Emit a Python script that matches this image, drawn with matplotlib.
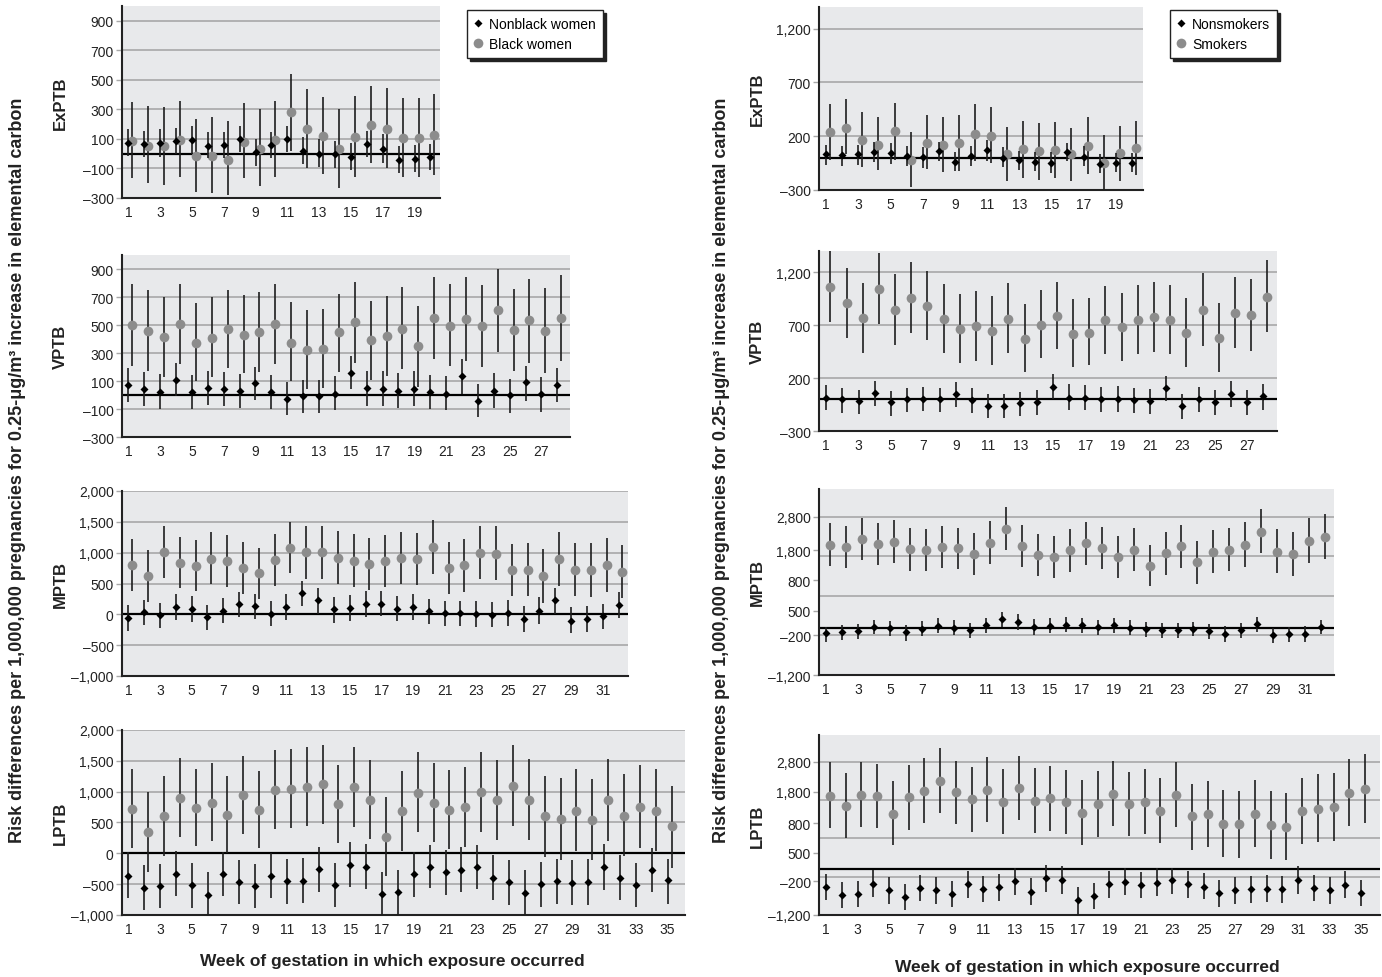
import matplotlib.pyplot as plt
from matplotlib.lines import Line2D

# ---- data: (estimate, lower CI, upper CI) per week ----
weeks20 = list(range(1, 21))
weeks28 = list(range(1, 29))
weeks32 = list(range(1, 33))
weeks35 = list(range(1, 36))

# left column: Nonblack women vs Black women
ex_nb_est = [75, 65, 70, 85, 90, 55, 60, 100, 10, 60, 100, 20, 0, -5, -20, 65, 35, -40, -35, -25]
ex_nb_lo = [-15, -20, -20, 0, 0, -30, -30, 10, -85, -30, 10, -70, -90, -100, -110, -20, -60, -130, -125, -110]
ex_nb_hi = [170, 155, 165, 175, 185, 145, 150, 190, 100, 150, 190, 115, 100, 85, 70, 155, 130, 55, 60, 65]
ex_b_est = [85, 55, 50, 95, -15, -15, -40, 80, 35, 90, 280, 170, 120, 30, 115, 195, 170, 105, 105, 125]
ex_b_lo = [-165, -200, -210, -155, -260, -265, -280, -165, -220, -160, 15, -95, -135, -230, -160, -65, -95, -155, -155, -145]
ex_b_hi = [350, 320, 315, 360, 235, 250, 220, 345, 300, 355, 540, 440, 385, 305, 390, 460, 445, 380, 375, 405]

vp_nb_est = [70, 45, 25, 110, 20, 50, 45, 30, 85, 25, -30, -10, -10, 10, 160, 50, 45, 30, 45, 20, 10, 135, -40, 30, 0, 90, 5, 70]
vp_nb_lo = [-50, -75, -100, -5, -100, -70, -75, -90, -35, -100, -145, -130, -130, -110, 40, -75, -80, -90, -75, -100, -110, 10, -160, -90, -125, -40, -120, -50]
vp_nb_hi = [190, 165, 150, 230, 145, 170, 165, 150, 200, 145, 90, 105, 105, 135, 280, 175, 170, 155, 175, 145, 135, 255, 80, 155, 115, 210, 130, 195]
vp_b_est = [500, 460, 415, 505, 375, 410, 470, 430, 450, 505, 375, 325, 330, 450, 520, 390, 420, 475, 350, 550, 495, 540, 490, 605, 465, 535, 460, 550]
vp_b_lo = [210, 175, 130, 220, 100, 130, 190, 155, 165, 225, 100, 40, 50, 165, 230, 110, 135, 185, 60, 260, 205, 240, 200, 310, 175, 230, 155, 245]
vp_b_hi = [790, 750, 700, 795, 655, 700, 750, 715, 735, 790, 665, 610, 615, 725, 805, 675, 705, 770, 635, 845, 790, 840, 785, 900, 760, 830, 765, 855]

mp_nb_est = [-60, 35, -15, 125, 90, -50, 60, 165, 135, 5, 125, 340, 225, 80, 105, 165, 175, 85, 125, 50, 15, 15, 10, -5, 20, -70, 55, 225, -100, -75, -35, 155]
mp_nb_lo = [-265, -180, -220, -85, -120, -250, -145, -45, -70, -195, -85, 130, 5, -140, -105, -45, -35, -115, -85, -155, -185, -195, -200, -210, -185, -280, -155, 5, -310, -280, -245, -55]
mp_nb_hi = [150, 240, 190, 330, 290, 155, 265, 370, 335, 210, 330, 545, 430, 285, 320, 375, 380, 295, 335, 250, 220, 220, 220, 200, 225, 140, 275, 435, 115, 140, 160, 365]
mp_b_est = [800, 620, 1010, 840, 790, 905, 860, 750, 665, 885, 1080, 1005, 1005, 920, 865, 820, 860, 910, 900, 1090, 745, 795, 995, 985, 720, 715, 620, 895, 715, 715, 800, 690]
mp_b_lo = [385, 200, 590, 420, 375, 500, 440, 335, 245, 465, 665, 575, 580, 500, 445, 400, 440, 495, 480, 660, 330, 365, 570, 555, 300, 290, 190, 465, 290, 280, 365, 265]
mp_b_hi = [1220, 1040, 1430, 1260, 1210, 1330, 1290, 1170, 1080, 1310, 1500, 1440, 1435, 1345, 1300, 1245, 1285, 1340, 1325, 1525, 1170, 1220, 1435, 1425, 1140, 1150, 1055, 1335, 1160, 1150, 1240, 1125]

lp_nb_est = [-360, -560, -530, -330, -510, -670, -340, -465, -530, -360, -455, -445, -255, -510, -190, -215, -660, -630, -340, -215, -310, -265, -215, -395, -470, -640, -500, -455, -475, -460, -215, -395, -510, -270, -440]
lp_nb_lo = [-730, -920, -890, -690, -880, -1040, -700, -820, -890, -720, -820, -800, -620, -870, -550, -580, -1040, -1040, -710, -570, -670, -620, -580, -760, -830, -1040, -870, -820, -840, -830, -590, -760, -870, -620, -815]
lp_nb_hi = [20, -190, -170, 30, -150, -310, 20, -110, -170, 0, -100, -80, 110, -150, 190, 150, -300, -270, 20, 140, 50, 95, 140, -30, -110, -270, -140, -90, -110, -100, 150, -30, -155, 85, -90]
lp_b_est = [725, 350, 600, 895, 740, 820, 620, 940, 705, 1035, 1050, 1080, 1120, 800, 1070, 870, 260, 685, 985, 810, 705, 750, 990, 870, 1090, 870, 600, 550, 690, 540, 860, 610, 745, 680, 440]
lp_b_lo = [90, -300, -50, 260, 115, 200, 0, 310, 80, 400, 415, 440, 480, 170, 430, 230, -360, 40, 340, 180, 70, 110, 350, 220, 440, 210, -60, -110, 30, -110, 200, -45, 85, 30, -235]
lp_b_hi = [1370, 1000, 1250, 1540, 1370, 1460, 1250, 1580, 1340, 1670, 1690, 1730, 1760, 1440, 1730, 1510, 910, 1330, 1640, 1460, 1350, 1400, 1650, 1520, 1750, 1530, 1260, 1220, 1370, 1210, 1530, 1280, 1430, 1360, 1100]

# right column: Nonsmokers vs Smokers
ex_ns_est = [30, 25, 35, 55, 45, 20, 10, 60, -40, 20, 75, 0, -25, -40, -50, 50, 10, -55, -50, -45]
ex_ns_lo = [-65, -75, -65, -40, -55, -80, -95, -35, -125, -80, -35, -85, -115, -125, -140, -35, -80, -140, -135, -130]
ex_ns_hi = [121, 105, 120, 145, 133, 105, 100, 145, 50, 105, 165, 95, 60, 55, 55, 135, 105, 35, 45, 45]
ex_s_est = [235, 275, 165, 120, 245, -25, 140, 115, 135, 220, 205, 30, 85, 65, 70, 30, 105, -45, 40, 90]
ex_s_lo = [-20, 30, -85, -110, -20, -275, -105, -130, -120, -35, -45, -220, -185, -205, -190, -220, -150, -300, -215, -165]
ex_s_hi = [495, 545, 420, 375, 510, 235, 400, 375, 400, 495, 470, 285, 345, 325, 335, 280, 375, 215, 290, 345]

vp_ns_est = [15, 0, -15, 55, -30, 0, 5, 0, 50, -10, -60, -65, -40, -25, 120, 15, 10, 0, 0, -10, -15, 105, -60, 0, -25, 50, -25, 30]
vp_ns_lo = [-105, -130, -135, -65, -155, -120, -115, -120, -70, -130, -180, -180, -160, -145, 5, -105, -105, -120, -120, -130, -140, -20, -185, -120, -145, -75, -150, -97]
vp_ns_hi = [130, 105, 90, 170, 80, 110, 115, 110, 160, 110, 50, 50, 70, 85, 240, 145, 135, 120, 125, 110, 100, 220, 50, 120, 90, 170, 85, 146]
vp_s_est = [1060, 910, 765, 1040, 840, 960, 880, 760, 660, 690, 640, 760, 570, 700, 790, 620, 630, 750, 685, 750, 775, 750, 625, 840, 575, 815, 800, 966]
vp_s_lo = [730, 575, 435, 710, 515, 625, 555, 435, 345, 365, 325, 440, 260, 385, 470, 305, 320, 425, 360, 425, 450, 430, 305, 505, 260, 485, 460, 632]
vp_s_hi = [1420, 1235, 1095, 1380, 1180, 1295, 1215, 1085, 990, 1025, 975, 1095, 895, 1030, 1110, 945, 960, 1070, 1000, 1075, 1105, 1080, 960, 1195, 910, 1150, 1140, 1315]

mp_ns_est = [-150, -105, -95, 15, -20, -120, -30, 50, -10, -70, 60, 205, 135, 5, 50, 75, 60, 15, 60, 0, -40, -70, -70, -40, -80, -160, -70, 85, -200, -165, -160, 25]
mp_ns_lo = [-355, -310, -285, -165, -210, -330, -215, -140, -200, -270, -140, 15, -60, -190, -150, -120, -140, -180, -140, -200, -235, -270, -270, -225, -280, -375, -270, -115, -400, -355, -355, -175]
mp_ns_hi = [15, 75, 100, 195, 160, 65, 160, 240, 180, 120, 240, 395, 335, 205, 230, 265, 250, 195, 250, 180, 145, 120, 110, 150, 100, 30, 120, 275, -10, 15, 30, 195]
mp_s_est = [2085, 2030, 2230, 2120, 2170, 1990, 1955, 2025, 2000, 1860, 2145, 2480, 2065, 1835, 1775, 1955, 2130, 2000, 1770, 1965, 1560, 1880, 2060, 1645, 1920, 1965, 2095, 2420, 1920, 1845, 2180, 2290]
mp_s_lo = [1565, 1515, 1700, 1590, 1625, 1435, 1430, 1505, 1470, 1325, 1615, 1955, 1540, 1300, 1240, 1415, 1580, 1470, 1240, 1420, 1040, 1325, 1515, 1095, 1370, 1420, 1540, 1885, 1370, 1290, 1625, 1735]
mp_s_hi = [2635, 2575, 2765, 2635, 2705, 2515, 2490, 2560, 2525, 2400, 2685, 3050, 2600, 2370, 2320, 2500, 2670, 2540, 2320, 2515, 2095, 2420, 2600, 2190, 2470, 2525, 2665, 2990, 2480, 2410, 2765, 2860]

lp_ns_est = [-470, -675, -655, -380, -550, -735, -485, -550, -650, -400, -510, -475, -305, -590, -235, -280, -815, -700, -400, -330, -415, -355, -295, -400, -460, -625, -550, -520, -510, -525, -290, -495, -550, -405, -625]
lp_ns_lo = [-820, -1020, -1000, -735, -915, -1080, -840, -900, -1000, -750, -855, -830, -665, -935, -590, -640, -1220, -1055, -750, -675, -760, -700, -640, -760, -795, -985, -915, -890, -865, -880, -640, -845, -915, -760, -975]
lp_ns_hi = [-120, -330, -305, -30, -210, -400, -155, -210, -310, -60, -175, -140, 15, -245, 110, 70, -470, -365, -50, 15, -90, 15, 40, -60, -100, -280, -210, -185, -155, -185, 70, -150, -220, -60, -290]
lp_s_est = [1910, 1635, 1945, 1910, 1440, 1880, 2040, 2310, 2000, 1825, 2065, 1745, 2110, 1775, 1850, 1740, 1470, 1690, 1970, 1690, 1745, 1515, 1935, 1375, 1430, 1185, 1170, 1430, 1155, 1110, 1505, 1565, 1625, 1985, 2090]
lp_s_lo = [1065, 810, 1110, 1065, 620, 1020, 1195, 1455, 1170, 980, 1230, 905, 1270, 930, 990, 915, 630, 840, 1125, 860, 905, 670, 1085, 505, 585, 315, 290, 575, 275, 240, 655, 715, 740, 1120, 1210]
lp_s_hi = [2800, 2500, 2790, 2755, 2290, 2715, 2905, 3150, 2830, 2670, 2920, 2600, 2960, 2630, 2700, 2575, 2330, 2550, 2830, 2530, 2600, 2370, 2800, 2215, 2300, 2065, 2040, 2315, 2040, 1980, 2390, 2470, 2515, 2875, 2995]

# axis tick values / labels
yt_small = [-300, -100, 100, 300, 500, 700, 900]
yt_small_lbl = ['\u2013300', '\u2013100', '100', '300', '500', '700', '900']
yt_big = [-1000, -500, 0, 500, 1000, 1500, 2000]
yt_big_lbl = ['\u20131,000', '\u2013500', '0', '500', '1,000', '1,500', '2,000']
yt_r_small = [-300, 200, 700, 1200]
yt_r_small_lbl = ['\u2013300', '200', '700', '1,200']
grid_r_big = [-1200, -200, 800, 1800, 2800]
yt_r_mp = [-1200, -190, 420, 1190, 1950, 2800]
yt_r_lp = [-1200, -320, 420, 1195, 2015, 2800]
yt_r_big_lbl = ['\u20131,200', '\u2013200', '500', '800', '1,800', '2,800']

W, H = 1382, 978
BG = '#e8e9eb'
GRID = '#a8a8a8'
GREY_PT = '#8c8c8c'
FONT = ['Liberation Sans', 'DejaVu Sans']
TXT = '#222222'

fig = plt.figure(figsize=(W / 100, H / 100), dpi=100)


def panel(box, xlim, ylim, weeks, a, b, grid, yticks, ylabels, name, name_x):
    x0, y0, x1, y1 = box
    ax = fig.add_axes([x0 / W, 1 - y1 / H, (x1 - x0) / W, (y1 - y0) / H])
    ax.set_facecolor(BG)
    for g in grid:
        ax.axhline(g, color=GRID, lw=1.2, zorder=1)
    ax.axhline(0, color='black', lw=1.6, zorder=2)
    xb = [w + 0.25 for w in weeks]
    ax.vlines(xb, b[1], b[2], color='#1e1e1e', lw=1.2, zorder=3)
    ax.plot(xb, b[0], 'o', ms=7, color=GREY_PT, mec='none', zorder=4)
    ax.vlines(weeks, a[1], a[2], color='#1e1e1e', lw=1.2, zorder=5)
    ax.plot(weeks, a[0], 'D', ms=4.2, color='black', mec='none', zorder=6)
    ax.set_xlim(*xlim)
    ax.set_ylim(*ylim)
    ax.set_xticks(list(range(1, weeks[-1] + 1, 2)))
    ax.set_yticks(yticks, ylabels)
    for s in ['top', 'right']:
        ax.spines[s].set_visible(False)
    for s in ['left', 'bottom']:
        ax.spines[s].set_linewidth(1.5)
        ax.spines[s].set_color(TXT)
    ax.tick_params(axis='x', length=0, pad=5, labelsize=10, colors=TXT)
    ax.tick_params(axis='y', length=4, width=1, color=GRID, pad=2, labelsize=10, labelcolor=TXT)
    for t in ax.get_xticklabels() + ax.get_yticklabels():
        t.set_family(FONT)
    fig.text(name_x / W, 1 - (y0 + y1) / 2 / H, name, rotation=90, ha='center', va='center',
             fontsize=12, fontweight='bold', family=FONT, color=TXT)
    return ax


L = 60
R = 757
panel((122, 7, 440, 199), (0.6, 20.6), (-300, 1000), weeks20,
      (ex_nb_est, ex_nb_lo, ex_nb_hi), (ex_b_est, ex_b_lo, ex_b_hi),
      yt_small, yt_small, yt_small_lbl, 'ExPTB', L)
panel((122, 256, 570, 438), (0.6, 28.8), (-300, 1000), weeks28,
      (vp_nb_est, vp_nb_lo, vp_nb_hi), (vp_b_est, vp_b_lo, vp_b_hi),
      yt_small, yt_small, yt_small_lbl, 'VPTB', L)
panel((122, 492, 628, 677), (0.6, 32.6), (-1000, 2000), weeks32,
      (mp_nb_est, mp_nb_lo, mp_nb_hi), (mp_b_est, mp_b_lo, mp_b_hi),
      yt_big, yt_big, yt_big_lbl, 'MPTB', L)
panel((122, 731, 685, 916), (0.6, 36.1), (-1000, 2000), weeks35,
      (lp_nb_est, lp_nb_lo, lp_nb_hi), (lp_b_est, lp_b_lo, lp_b_hi),
      yt_big, yt_big, yt_big_lbl, 'LPTB', L)

panel((819, 8, 1143, 191), (0.55, 20.7), (-300, 1400), weeks20,
      (ex_ns_est, ex_ns_lo, ex_ns_hi), (ex_s_est, ex_s_lo, ex_s_hi),
      yt_r_small, yt_r_small, yt_r_small_lbl, 'ExPTB', R)
panel((819, 252, 1277, 432), (0.55, 28.85), (-300, 1400), weeks28,
      (vp_ns_est, vp_ns_lo, vp_ns_hi), (vp_s_est, vp_s_lo, vp_s_hi),
      yt_r_small, yt_r_small, yt_r_small_lbl, 'VPTB', R)
panel((819, 490, 1334, 676), (0.55, 32.8), (-1200, 3500), weeks32,
      (mp_ns_est, mp_ns_lo, mp_ns_hi), (mp_s_est, mp_s_lo, mp_s_hi),
      grid_r_big, yt_r_mp, yt_r_big_lbl, 'MPTB', R)
panel((819, 736, 1380, 916), (0.55, 36.2), (-1200, 3500), weeks35,
      (lp_ns_est, lp_ns_lo, lp_ns_hi), (lp_s_est, lp_s_lo, lp_s_hi),
      grid_r_big, yt_r_lp, yt_r_big_lbl, 'LPTB', R)


def legend(x, y, labels):
    handles = [Line2D([], [], ls='none', marker='D', ms=4.2, color='black', mec='none'),
               Line2D([], [], ls='none', marker='o', ms=7, color=GREY_PT, mec='none')]
    leg = fig.legend(handles, labels, loc='upper left', bbox_to_anchor=(x / W, 1 - y / H),
                     frameon=True, fancybox=False, edgecolor=TXT, framealpha=1,
                     shadow={'color': TXT, 'alpha': 1}, borderaxespad=0,
                     handlelength=0.6, handletextpad=0.5, labelspacing=0.45,
                     borderpad=0.5, prop={'family': FONT, 'size': 10})
    leg.get_frame().set_linewidth(1.0)


legend(467, 11, ['Nonblack women', 'Black women'])
legend(1170, 11, ['Nonsmokers', 'Smokers'])

ylab = 'Risk differences per 1,000,000 pregnancies for 0.25-\u03bcg/m\u00b3 increase in elemental carbon'
xlab = 'Week of gestation in which exposure occurred'
for xpos in (18, 722):
    fig.text(xpos / W, 1 - 470 / H, ylab, rotation=90, ha='center', va='center',
             fontsize=13, fontweight='bold', family=FONT, color=TXT)
fig.text(392 / W, 1 - 962 / H, xlab, ha='center', va='center',
         fontsize=12.5, fontweight='bold', family=FONT, color=TXT)
fig.text(1087 / W, 1 - 968 / H, xlab, ha='center', va='center',
         fontsize=12.5, fontweight='bold', family=FONT, color=TXT)

fig.savefig('out.png', dpi=100)
